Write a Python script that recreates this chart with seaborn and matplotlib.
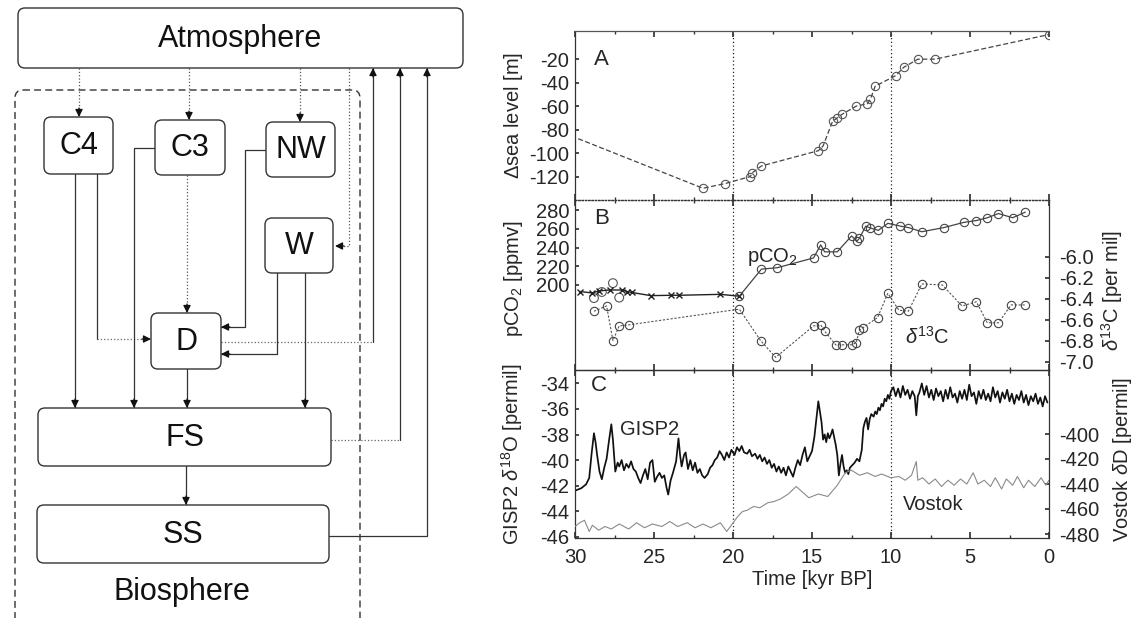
import matplotlib
matplotlib.use("Agg")
import matplotlib.pyplot as plt
from matplotlib.patches import FancyBboxPatch
from matplotlib.ticker import MultipleLocator, FormatStrFormatter
import pandas as pd
import seaborn as sns

# --- data ---
sea_age = [32.0, 21.9, 20.5, 18.9, 18.8, 18.2, 14.6, 14.3, 13.7, 13.4, 13.1, 12.2,
           11.5, 11.3, 11.0, 9.7, 9.2, 8.3, 7.2, 0.0]
sea_level = [-76, -130, -126, -120, -117, -111, -98, -94, -73, -70, -67, -60,
             -58, -54, -43, -34, -27, -20, -20, 1]

# pCO2, Taylor Dome part (x markers)
td_age = [29.7, 28.9, 28.5, 27.8, 27.0, 26.7, 26.4, 25.2, 23.9, 23.4, 20.8, 19.6]
td_co2 = [193, 191.5, 193.6, 194.7, 194.6, 193, 192, 188.6, 189, 189, 190, 188]
# pCO2, early loose circles
early_age = [28.8, 28.3, 27.6, 27.2]
early_co2 = [186, 192.5, 202, 186.5]
# pCO2 main circles
co2_age = [19.6, 18.2, 17.2, 14.9, 14.45, 14.2, 13.4, 12.5, 12.15, 12.0, 11.6, 11.3,
           10.8, 10.2, 9.4, 8.9, 8.05, 6.65, 5.4, 4.6, 3.9, 3.2, 2.3, 1.5]
co2_val = [188, 217, 218.5, 229, 243, 235.5, 235.5, 252.5, 247, 250, 263, 261,
           258.5, 266, 263, 261.5, 257, 261.5, 267, 269, 272, 276.5, 272, 278]

d13c_age = [28.8, 28.0, 27.6, 27.2, 26.6, 19.6, 18.25, 17.3, 14.9, 14.45, 14.2, 13.5,
            13.1, 12.5, 12.2, 12.0, 11.8, 10.85, 10.2, 9.5, 8.9, 8.05, 6.75, 5.5,
            4.6, 3.9, 3.2, 2.4, 1.5]
d13c_val = [-6.52, -6.47, -6.80, -6.66, -6.65, -6.50, -6.80, -6.96, -6.66, -6.65, -6.71, -6.84,
            -6.84, -6.84, -6.82, -6.70, -6.68, -6.58, -6.35, -6.51, -6.52, -6.26, -6.27, -6.47,
            -6.43, -6.63, -6.63, -6.46, -6.46]

gisp2_age = [30.0, 29.6, 29.3, 29.1, 28.95, 28.8, 28.7, 28.6, 28.45, 28.3, 28.15, 28.0,
             27.85, 27.7, 27.6, 27.45, 27.3, 27.2, 27.05, 26.9, 26.75, 26.6, 26.45, 26.3,
             26.15, 26.0, 25.85, 25.7, 25.55, 25.4, 25.25, 25.1, 24.95, 24.8, 24.65, 24.5,
             24.35, 24.2, 24.1, 23.95, 23.8, 23.6, 23.45, 23.35, 23.25, 23.1, 23.0, 22.85,
             22.7, 22.55, 22.4, 22.25, 22.1, 21.95, 21.8, 21.6, 21.45, 21.3, 21.15, 21.0,
             20.85, 20.7, 20.55, 20.4, 20.25, 20.1, 19.9, 19.75, 19.6, 19.45, 19.3, 19.1,
             18.95, 18.8, 18.6, 18.45, 18.3, 18.15, 18.0, 17.85, 17.7, 17.55, 17.4, 17.25,
             17.1, 16.95, 16.8, 16.65, 16.5, 16.35, 16.2, 16.05, 15.9, 15.75, 15.6, 15.45,
             15.3, 15.15, 15.0, 14.85, 14.7, 14.6, 14.5, 14.4, 14.3, 14.2, 14.1, 14.0,
             13.9, 13.8, 13.7, 13.6, 13.5, 13.4, 13.3, 13.2, 13.1, 13.0, 12.9, 12.8,
             12.7, 12.6, 12.45, 12.3, 12.15, 12.0, 11.85, 11.75, 11.65, 11.55, 11.45, 11.35,
             11.25, 11.1, 11.0, 10.9, 10.8, 10.7, 10.6, 10.5, 10.4, 10.3, 10.2, 10.1,
             10.0, 9.85, 9.7, 9.55, 9.4, 9.25, 9.1, 8.95, 8.8, 8.65, 8.5, 8.4,
             8.3, 8.2, 8.05, 7.9, 7.75, 7.6, 7.45, 7.3, 7.15, 7.0, 6.85, 6.7,
             6.55, 6.4, 6.25, 6.1, 5.95, 5.8, 5.65, 5.5, 5.35, 5.2, 5.05, 4.9,
             4.75, 4.6, 4.45, 4.3, 4.15, 4.0, 3.85, 3.7, 3.55, 3.4, 3.25, 3.1,
             2.95, 2.8, 2.65, 2.5, 2.35, 2.2, 2.05, 1.9, 1.75, 1.6, 1.45, 1.3,
             1.15, 1.0, 0.85, 0.7, 0.55, 0.4, 0.25, 0.1]
gisp2_d18o = [-42.4, -42.2, -41.9, -41.4, -39.5, -37.9, -38.6, -39.6, -40.9, -41.5, -40.6, -39.9,
              -38.5, -37.2, -38.4, -40.9, -40.2, -40.5, -40.0, -40.8, -40.3, -40.6, -40.1, -40.7,
              -40.9, -41.4, -41.8, -41.2, -40.7, -41.5, -40.2, -40.0, -41.7, -41.3, -41.0, -41.4,
              -41.2, -42.2, -42.7, -41.6, -41.0, -40.1, -38.3, -39.6, -40.5, -39.6, -39.4, -40.7,
              -40.0, -40.8, -40.2, -41.0, -40.7, -41.2, -41.4, -41.1, -40.6, -40.4, -40.0, -39.8,
              -39.3, -39.6, -40.0, -39.4, -39.8, -39.2, -39.6, -39.0, -39.3, -38.9, -39.4, -39.5,
              -39.2, -39.7, -39.5, -39.9, -39.6, -40.1, -39.8, -40.3, -40.0, -40.6, -40.3, -40.9,
              -40.5, -41.0, -40.6, -41.2, -40.5, -40.9, -41.3, -40.6, -40.0, -40.4, -39.6, -39.0,
              -40.1, -39.7, -39.3, -38.2, -36.5, -35.4, -36.2, -37.0, -38.4, -38.0, -38.6, -37.9,
              -38.3, -38.0, -37.6, -38.2, -38.8, -39.6, -41.2, -40.3, -39.6, -40.5, -41.0, -40.8,
              -41.1, -40.6, -40.4, -40.2, -39.9, -40.1, -39.2, -37.5, -37.0, -36.7, -37.6, -36.8,
              -36.4, -36.6, -36.2, -36.4, -35.9, -36.1, -35.6, -35.8, -35.2, -35.4, -34.9, -35.2,
              -34.6, -34.3, -35.0, -34.4, -35.1, -34.2, -34.9, -34.5, -35.2, -34.6, -35.0, -36.5,
              -35.0, -34.7, -34.0, -34.9, -34.2, -35.1, -34.5, -35.3, -34.4, -35.0, -34.6, -35.4,
              -34.5, -35.2, -34.3, -35.1, -34.8, -35.5, -34.6, -35.2, -34.5, -35.3, -34.1, -35.0,
              -34.7, -35.6, -34.6, -35.2, -34.5, -35.3, -34.8, -35.4, -34.3, -35.1, -34.6, -35.5,
              -34.7, -35.2, -34.5, -35.4, -34.8, -35.6, -34.9, -35.3, -34.6, -35.5, -34.9, -35.7,
              -35.0, -35.4, -34.8, -35.6, -35.1, -35.8, -35.0, -35.5]

vostok_age = [30.0, 29.7, 29.4, 29.1, 28.9, 28.5, 28.1, 27.7, 27.2, 26.6, 26.1, 25.6,
              25.1, 24.5, 24.0, 23.5, 22.9, 22.4, 21.9, 21.4, 20.8, 20.4, 19.7, 19.4,
              19.1, 18.7, 18.3, 17.8, 17.4, 17.0, 16.5, 16.0, 15.2, 14.6, 14.0, 13.4,
              12.9, 12.5, 12.0, 11.5, 11.0, 10.6, 10.0, 9.5, 9.1, 8.7, 8.4, 8.3,
              8.0, 7.6, 7.2, 6.8, 6.4, 6.0, 5.6, 5.2, 4.8, 4.5, 4.1, 3.7,
              3.4, 3.0, 2.7, 2.3, 2.0, 1.6, 1.3, 0.9, 0.5, 0.2, 0.0]
vostok_dd = [-474, -471, -469, -478, -473, -477, -474, -476, -472, -476, -471, -475,
             -472, -474, -470, -474, -471, -475, -472, -475, -471, -478, -466, -462,
             -461, -458, -459, -455, -454, -452, -448, -442, -451, -448, -450, -441,
             -431, -429, -433, -431, -434, -432, -435, -434, -437, -433, -422, -437,
             -435, -440, -436, -442, -437, -441, -436, -440, -431, -440, -437, -442,
             -435, -444, -436, -441, -434, -443, -437, -442, -435, -441, -437]

vgrid_ages = [20, 10]

# --- style ---
sns.set_theme(style="ticks")
plt.rcParams['font.family'] = ['Liberation Sans', 'DejaVu Sans']
plt.rcParams['mathtext.fontset'] = 'custom'
plt.rcParams['mathtext.rm'] = 'Liberation Sans'
plt.rcParams['mathtext.it'] = 'Liberation Sans:italic'
plt.rcParams['axes.unicode_minus'] = False

W, H = 1134, 618
fig = plt.figure(figsize=(W / 100, H / 100), dpi=100)
fig.patch.set_facecolor('white')

# --- left: box diagram ---
axd = fig.add_axes([0, 0, 470 / W, 1])
axd.set_xlim(0, 470)
axd.set_ylim(H, 0)
axd.axis('off')

frame = FancyBboxPatch((15, 90), 345, 600, boxstyle="round,pad=0,rounding_size=8",
                       fc='none', ec='#333', lw=1.0, ls=(0, (5, 3)))
axd.add_patch(frame)

boxes = {
    "Atmosphere": (18, 8, 463, 68),
    "C4": (44, 117, 113, 174),
    "C3": (155, 120, 225, 175),
    "NW": (266, 122, 335, 177),
    "W": (265, 218, 333, 273),
    "D": (151, 313, 221, 369),
    "FS": (38, 408, 331, 466),
    "SS": (37, 505, 329, 563),
}
for name, (x0, y0, x1, y1) in boxes.items():
    axd.add_patch(FancyBboxPatch((x0, y0), x1 - x0, y1 - y0,
                                 boxstyle="round,pad=0,rounding_size=7",
                                 fc='white', ec='#333', lw=1.0, zorder=3))
    axd.text((x0 + x1) / 2, (y0 + y1) / 2 + 1, name, ha='center', va='center',
             fontsize=22, color='#111', zorder=4)
axd.text(182, 592, "Biosphere", ha='center', va='center', fontsize=22, color='#111')


def link(pts, ls='-', color='#333'):
    xs = [p[0] for p in pts]
    ys = [p[1] for p in pts]
    axd.plot(xs, ys, ls=ls, color=color, lw=0.9, zorder=2)
    (xa, ya), (xb, yb) = pts[-2], pts[-1]
    d = ((xb - xa) ** 2 + (yb - ya) ** 2) ** 0.5
    start = (xb - 9 * (xb - xa) / d, yb - 9 * (yb - ya) / d)
    axd.annotate('', xy=(xb, yb), xytext=start, zorder=5,
                 arrowprops=dict(arrowstyle='-|>', color='#111', lw=0.9,
                                 mutation_scale=11, shrinkA=0, shrinkB=0))


link([(79, 68), (79, 117)], ls=':', color='#555')
link([(189, 68), (189, 120)], ls=':', color='#555')
link([(300, 68), (300, 122)], ls=':', color='#555')
link([(349, 68), (349, 246), (335, 246)], ls=':', color='#555')
axd.plot([221, 373], [342, 342], ls=':', color='#666', lw=0.9)
link([(373, 342), (373, 68)])
axd.plot([331, 400], [440, 440], ls=':', color='#666', lw=0.9)
link([(400, 440), (400, 68)])
link([(329, 536), (427, 536), (427, 68)])
link([(75, 174), (75, 408)])
axd.plot([97, 97], [174, 339], color='#333', lw=0.9)
link([(97, 339), (151, 339)], ls=':', color='#666')
link([(155, 148), (134, 148), (134, 408)])
link([(187, 175), (187, 313)], ls=':', color='#555')
link([(266, 150), (245, 150), (245, 327), (221, 327)])
link([(277, 273), (277, 354), (221, 354)])
link([(305, 273), (305, 408)])
link([(187, 369), (187, 408)])
link([(186, 466), (186, 505)])

# --- right: three stacked panels ---
L, R = 575 / W, 1049 / W
axA = fig.add_axes([L, 1 - 200 / H, R - L, 169 / H])
axB = fig.add_axes([L, 1 - 370 / H, R - L, 170 / H])
axC = fig.add_axes([L, 1 - 538 / H, R - L, 168 / H])
axB2 = axB.twinx()
axC2 = axC.twinx()

sea = pd.DataFrame({"age": sea_age, "level": sea_level})
sns.lineplot(data=sea, x="age", y="level", ax=axA, color="#444", lw=0.9, ls=(0, (4, 2)),
             marker="o", ms=6, mfc="none", mec="#555", mew=0.8, estimator=None, sort=False)

sns.lineplot(x=td_age, y=td_co2, ax=axB, color="#222", lw=1.0, marker="x", ms=4,
             mec="#222", mew=1.0, estimator=None, sort=False)
sns.scatterplot(x=early_age, y=early_co2, ax=axB, marker="o", s=40, facecolors="none",
                edgecolors="#555", linewidths=0.8)
sns.lineplot(x=co2_age, y=co2_val, ax=axB, color="#444", lw=0.9, marker="o", ms=6,
             mfc="none", mec="#444", mew=0.8, estimator=None, sort=False)
sns.lineplot(x=d13c_age, y=d13c_val, ax=axB2, color="#555", lw=0.8, ls=(0, (2, 1.5)),
             marker="o", ms=6, mfc="none", mec="#444", mew=0.8, estimator=None, sort=False)

sns.lineplot(x=vostok_age, y=vostok_dd, ax=axC2, color="#8a8a8a", lw=0.8,
             estimator=None, sort=False)
sns.lineplot(x=gisp2_age, y=gisp2_d18o, ax=axC, color="#111111", lw=1.25,
             estimator=None, sort=False)

axA.set_ylim(-140, 4)
axA.set_yticks([-20, -40, -60, -80, -100, -120])
axB.set_ylim(109, 291)
axB.set_yticks([200, 220, 240, 260, 280])
axB2.set_ylim(-7.08, -5.46)
axB2.set_yticks([-6.0, -6.2, -6.4, -6.6, -6.8, -7.0])
axB2.yaxis.set_major_formatter(FormatStrFormatter('%.1f'))
axC.set_ylim(-46.1, -32.95)
axC.set_yticks([-34, -36, -38, -40, -42, -44, -46])
axC2.set_ylim(-483.2, -348.8)
axC2.set_yticks([-400, -420, -440, -460, -480])

for ax in (axA, axB, axC):
    ax.set_xlim(30, 0)
    ax.xaxis.set_major_locator(MultipleLocator(5))
    ax.xaxis.set_minor_locator(MultipleLocator(2.5))
    ax.tick_params(axis='x', which='both', direction='in', top=True, bottom=True,
                   labelbottom=False, color='#333')
    ax.tick_params(axis='x', which='major', length=4)
    ax.tick_params(axis='x', which='minor', length=2)
    ax.tick_params(axis='y', direction='in', length=3, labelsize=14.5, pad=4, color='#333')
    ax.set_xlabel('')
    ax.spines['right'].set_visible(False)
    for s in ('left', 'top', 'bottom'):
        ax.spines[s].set_color('#333')
        ax.spines[s].set_linewidth(0.9)
    for a in vgrid_ages:
        ax.axvline(a, color='#222', ls=(0, (1, 2)), lw=0.9, zorder=0)
    ax.set_facecolor('none')

for ax in (axB2, axC2):
    ax.tick_params(axis='y', direction='in', length=3, labelsize=14.5, pad=7, color='#333')
    for s in ('left', 'top', 'bottom'):
        ax.spines[s].set_visible(False)
    ax.spines['right'].set_color('#333')
    ax.spines['right'].set_linewidth(0.9)

axA.spines['bottom'].set_linestyle(':')
axB.spines['top'].set_linestyle(':')
axA.spines['top'].set_color('#555')

axC.tick_params(axis='x', which='major', labelbottom=True, labelsize=14.5, pad=7)
axC.set_xticks([30, 25, 20, 15, 10, 5, 0])
axC.set_xlabel('Time [kyr BP]', fontsize=14.5)
axC.xaxis.set_label_coords(0.5, -0.19)

axA.set_ylabel(r'$\Delta$sea level [m]', fontsize=14.5)
axB.set_ylabel(r'pCO$_2$ [ppmv]', fontsize=14.5)
axC.set_ylabel(r'GISP2 $\delta^{18}$O [permil]', fontsize=14.5)
axB2.set_ylabel(r'$\delta^{13}$C [per mil]', fontsize=14.5)
axC2.set_ylabel(r'Vostok $\delta$D [permil]', fontsize=14.5)
axA.yaxis.set_label_coords(-0.105, 0.5)
axB.yaxis.set_label_coords(-0.105, 0.54)
axC.yaxis.set_label_coords(-0.105, 0.5)
axB2.yaxis.set_label_coords(1.105, 0.47)
axC2.yaxis.set_label_coords(1.13, 0.47)

axA.text(0.055, 0.83, 'A', transform=axA.transAxes, ha='center', va='center', fontsize=16)
axB.text(0.055, 0.89, 'B', transform=axB.transAxes, ha='center', va='center', fontsize=16)
axC.text(0.05, 0.905, 'C', transform=axC.transAxes, ha='center', va='center', fontsize=16)
axB.text(17.5, 230, r'pCO$_2$', ha='center', va='center', fontsize=14.5)
axB2.text(7.7, -6.76, r'$\delta^{13}$C', ha='center', va='center', fontsize=14.5)
axC.text(25.3, -37.6, 'GISP2', ha='center', va='center', fontsize=14.5)
axC2.text(7.3, -456.8, 'Vostok', ha='center', va='center', fontsize=14.5)

fig.savefig("out.png", dpi=100, facecolor='white')
